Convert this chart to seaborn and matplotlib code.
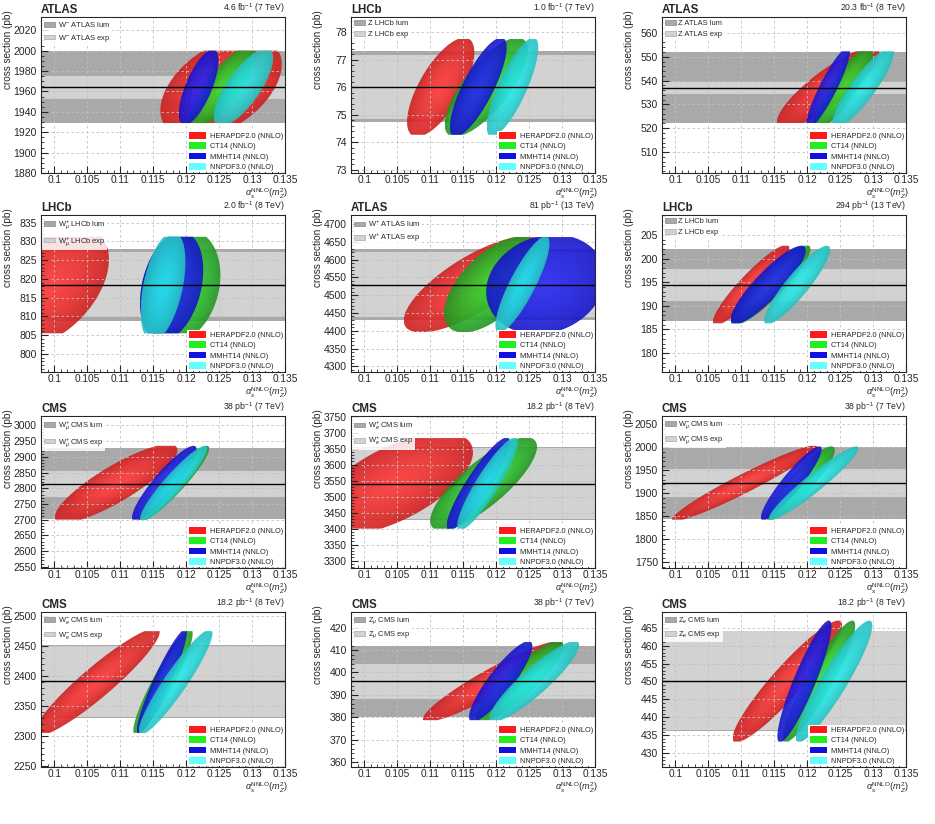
import numpy as np
import matplotlib
matplotlib.use("Agg")
import matplotlib.pyplot as plt
import seaborn as sns
from matplotlib.patches import Polygon, Patch

# -------- DATA --------
experiments = ["ATLAS", "LHCb", "ATLAS", "LHCb", "ATLAS", "LHCb",
               "CMS", "CMS", "CMS", "CMS", "CMS", "CMS"]
lumi_text = [r"4.6 fb$^{-1}$ (7 TeV)", r"1.0 fb$^{-1}$ (7 TeV)", r"20.3 fb$^{-1}$ (8 TeV)",
             r"2.0 fb$^{-1}$ (8 TeV)", r"81 pb$^{-1}$ (13 TeV)", r"294 pb$^{-1}$ (13 TeV)",
             r"38 pb$^{-1}$ (7 TeV)", r"18.2 pb$^{-1}$ (8 TeV)", r"38 pb$^{-1}$ (7 TeV)",
             r"18.2 pb$^{-1}$ (8 TeV)", r"38 pb$^{-1}$ (7 TeV)", r"18.2 pb$^{-1}$ (8 TeV)"]
channels = [r"W$^{-}$ ATLAS", "Z LHCb", "Z ATLAS",
            r"W$^{+}_{\mu}$ LHCb", r"W$^{+}$ ATLAS", "Z LHCb",
            r"W$^{+}_{\mu}$ CMS", r"W$^{+}_{e}$ CMS", r"W$^{-}_{\mu}$ CMS",
            r"W$^{-}_{e}$ CMS", r"Z$_{\mu}$ CMS", r"Z$_{e}$ CMS"]

# y axis ranges and ticks
y_min = [1880, 72.88, 501.2, 795.2, 4284, 176.0, 2546, 3277, 1738, 2248, 357.8, 426.1]
y_max = [2033, 78.55, 566.7, 837.0, 4725, 209.2, 3030, 3752, 2068, 2507, 427.0, 469.4]
y_tick0 = [1880, 73, 510, 800, 4300, 180, 2550, 3300, 1750, 2250, 360, 430]
y_step = [20, 1, 10, 5, 50, 5, 50, 50, 50, 50, 10, 5]

# measurement: central value, total (lum+exp) band, exp band
meas_central = [1964, 76.0, 536.9, 818.35, 4529, 194.4, 2815, 3540, 1921.5, 2391, 396.0, 450.0]
band_tot_lo = [1929, 74.72, 522.4, 808.9, 4429, 186.8, 2702, 3428, 1844, 2330, 379.9, 436.1]
band_tot_hi = [1999.5, 77.32, 552.2, 827.9, 4629, 202.0, 2928, 3654, 2000, 2451.5, 411.9, 464.2]
band_exp_lo = [1953, 74.84, 534.4, 809.9, 4438, 191.0, 2773, 3431, 1893, 2331, 388.1, 436.3]
band_exp_hi = [1975, 77.18, 539.3, 827.1, 4620, 197.8, 2856, 3651, 1952, 2450, 403.6, 464.0]

# y range that the theory contours are cut to
clip_lo = [1929, 74.27, 522.2, 805.5, 4393, 186.3, 2700, 3400, 1843, 2305, 378.7, 433.2]
clip_hi = [2000, 77.75, 552.3, 831.2, 4663, 202.7, 2935, 3683, 2003, 2475, 413.6, 467.1]

pdf_names = ["HERAPDF2.0 (NNLO)", "CT14 (NNLO)", "MMHT14 (NNLO)", "NNPDF3.0 (NNLO)"]

# contour parameters, one row per panel, order HERAPDF, CT14, MMHT14, NNPDF
cx = [[0.1253, 0.1255, 0.1219, 0.1287],
      [0.1116, 0.1185, 0.1173, 0.1225],
      [0.1232, 0.1255, 0.1232, 0.1285],
      [0.0995, 0.1192, 0.1178, 0.1165],
      [0.1165, 0.1195, 0.1275, 0.1240],
      [0.1115, 0.1145, 0.1141, 0.1185],
      [0.1094, 0.1182, 0.1167, 0.1181],
      [0.1045, 0.1181, 0.1173, 0.1187],
      [0.1105, 0.1190, 0.1176, 0.1210],
      [0.1065, 0.1165, 0.1163, 0.1184],
      [0.1195, 0.1236, 0.1207, 0.1258],
      [0.1170, 0.1218, 0.1196, 0.1241]]
sx = [[0.0092, 0.0050, 0.0030, 0.0045],
      [0.0051, 0.0063, 0.0043, 0.0039],
      [0.0078, 0.0045, 0.0033, 0.0047],
      [0.0088, 0.0060, 0.0048, 0.0034],
      [0.0105, 0.0074, 0.0090, 0.0041],
      [0.0058, 0.0060, 0.0057, 0.0050],
      [0.0093, 0.0053, 0.0049, 0.0051],
      [0.0120, 0.0081, 0.0048, 0.0046],
      [0.0110, 0.0052, 0.0046, 0.0068],
      [0.0095, 0.0045, 0.0038, 0.0056],
      [0.0106, 0.0066, 0.0048, 0.0068],
      [0.0083, 0.0055, 0.0041, 0.0058]]
cy = [[1964, 1964, 1964, 1964],
      [76.0, 76.0, 76.0, 76.0],
      [537, 537, 537, 537],
      [818, 818, 818, 818],
      [4530, 4530, 4530, 4530],
      [194.4, 194.4, 194.4, 194.4],
      [2815, 2815, 2815, 2815],
      [3540, 3540, 3540, 3540],
      [1922, 1922, 1922, 1922],
      [2390, 2390, 2390, 2390],
      [396, 396, 396, 396],
      [450, 450, 450, 450]]
sy = [[50, 40, 37, 38],
      [1.8, 1.8, 1.8, 1.8],
      [17, 17, 17, 17],
      [16, 15, 14.5, 14.5],
      [135, 135, 140, 135],
      [8.5, 8.5, 8.3, 8.3],
      [125, 120, 120, 120],
      [160, 145, 145, 145],
      [82, 80, 80, 80],
      [90, 88, 88, 88],
      [18, 18, 18, 18],
      [17, 17, 17, 17]]
rho = [[0.45, 0.80, 0.70, 0.75],
       [0.70, 0.75, 0.80, 0.80],
       [0.85, 0.85, 0.90, 0.88],
       [0.45, 0.20, 0.30, 0.45],
       [0.75, 0.60, 0.15, 0.85],
       [0.92, 0.90, 0.88, 0.90],
       [0.85, 0.93, 0.90, 0.93],
       [0.62, 0.80, 0.90, 0.90],
       [0.96, 0.90, 0.92, 0.95],
       [0.93, 0.92, 0.93, 0.93],
       [0.93, 0.88, 0.88, 0.90],
       [0.93, 0.92, 0.90, 0.92]]

x_ticks = [0.1, 0.105, 0.11, 0.115, 0.12, 0.125, 0.13, 0.135]

# -------- STYLE --------
sns.set_style("ticks")
plt.rcParams["font.family"] = ["Liberation Sans", "DejaVu Sans"]
plt.rcParams["mathtext.fontset"] = "custom"
plt.rcParams["mathtext.rm"] = "Liberation Sans"
plt.rcParams["mathtext.it"] = "Liberation Sans:italic"

edge_rgb = {"HERAPDF2.0 (NNLO)": (0.80, 0.12, 0.12), "CT14 (NNLO)": (0.13, 0.58, 0.13),
            "MMHT14 (NNLO)": (0.08, 0.08, 0.78), "NNPDF3.0 (NNLO)": (0.15, 0.75, 0.75)}
center_rgb = {"HERAPDF2.0 (NNLO)": (1.00, 0.22, 0.22), "CT14 (NNLO)": (0.20, 0.88, 0.20),
              "MMHT14 (NNLO)": (0.15, 0.15, 0.95), "NNPDF3.0 (NNLO)": (0.15, 0.92, 0.92)}
legend_rgb = {"HERAPDF2.0 (NNLO)": "#ff1a1a", "CT14 (NNLO)": "#22ee22",
              "MMHT14 (NNLO)": "#1010e0", "NNPDF3.0 (NNLO)": "#66ffff"}
dark_band = "#a9a9a9"
light_band = "#d2d2d2"

fig = plt.figure(figsize=(9.35, 8.24), dpi=100)
W, H = 935, 824
col_left = [41, 351, 662]
row_top = [17, 215, 416, 612]
row_h = [156, 157, 152, 155]
ax_w = 244

for i in range(12):
    r, c = divmod(i, 3)
    ax = fig.add_axes([col_left[c] / W, 1 - (row_top[r] + row_h[r]) / H, ax_w / W, row_h[r] / H])
    ax.set_xlim(0.098, 0.135)
    ax.set_ylim(y_min[i], y_max[i])

    # measurement bands
    ax.axhspan(band_tot_lo[i], band_tot_hi[i], color=dark_band, lw=0, zorder=1)
    ax.axhspan(band_exp_lo[i], band_exp_hi[i], color=light_band, lw=0, zorder=1.1)

    # theory contours with shaded interior
    for k, name in enumerate(pdf_names):
        x0, y0, a, b, p = cx[i][k], cy[i][k], sx[i][k], sy[i][k], rho[i][k]
        t = np.linspace(0, 2 * np.pi, 400)
        ex = x0 + a * np.cos(t)
        ey = y0 + b * (p * np.cos(t) + np.sqrt(1 - p ** 2) * np.sin(t))
        ey = np.clip(ey, clip_lo[i], clip_hi[i])
        poly = Polygon(np.column_stack([ex, ey]), closed=True, facecolor="none",
                       edgecolor="none", transform=ax.transData)
        ax.add_patch(poly)
        gx = np.linspace(x0 - a, x0 + a, 120)
        gy = np.linspace(y0 - b, y0 + b, 120)
        GX, GY = np.meshgrid(gx, gy)
        u = (GX - x0) / a
        v = (GY - y0) / b
        rr = np.sqrt(np.clip((u ** 2 - 2 * p * u * v + v ** 2) / (1 - p ** 2), 0, 1))
        c0 = np.array(center_rgb[name])
        c1 = np.array(edge_rgb[name])
        wgt = rr[..., None] ** 1.5
        img = c0[None, None, :] * (1 - wgt) + c1[None, None, :] * wgt
        im = ax.imshow(img, extent=(x0 - a, x0 + a, y0 - b, y0 + b), origin="lower",
                       aspect="auto", alpha=0.9, zorder=2 + k, interpolation="bilinear")
        im.set_clip_path(poly)

    # central value
    sns.lineplot(x=[0.098, 0.135], y=[meas_central[i]] * 2, color="black", lw=1.0,
                 ax=ax, zorder=7)

    ax.set_xlim(0.098, 0.135)
    ax.set_ylim(y_min[i], y_max[i])
    ax.set_xticks(x_ticks)
    ax.set_xticklabels(["%g" % v for v in x_ticks])
    yt = np.arange(y_tick0[i], y_max[i] + 1e-9, y_step[i])
    ax.set_yticks(yt)
    ax.set_yticklabels(["%g" % v for v in yt])
    ax.minorticks_on()
    ax.tick_params(which="both", direction="in", labelsize=7.5, pad=3)
    ax.tick_params(axis="x", which="both", labelsize=7.3, pad=1.5)
    ax.tick_params(which="major", length=5)
    ax.tick_params(which="minor", length=2.5)
    ax.grid(True, which="major", ls=(0, (3, 3)), color="#c0c0c0", lw=0.6, zorder=0)
    ax.set_axisbelow(False)
    for s in ax.spines.values():
        s.set_linewidth(0.8)
        s.set_zorder(10)

    ax.set_ylabel("cross section (pb)", fontsize=7.2, loc="top")
    ax.yaxis.set_label_coords(-0.114, 1.045)
    ax.set_xlabel(r"$\alpha_s^{\mathrm{NNLO}}(m_Z^2)$", fontsize=6.6, loc="right")
    ax.xaxis.set_label_coords(1.01, -0.088)

    ax.text(0.0, 1.008, experiments[i], transform=ax.transAxes, fontsize=8.3,
            fontweight="bold", ha="left", va="bottom")
    ax.text(1.0, 1.012, lumi_text[i], transform=ax.transAxes, fontsize=6.2,
            ha="right", va="bottom")

    h1 = [Patch(facecolor=dark_band, edgecolor="#888888", lw=0.5),
          Patch(facecolor=light_band, edgecolor="#aaaaaa", lw=0.5)]
    leg1 = ax.legend(h1, [channels[i] + " lum", channels[i] + " exp"], loc="upper left",
                     bbox_to_anchor=(0.0, 1.0), fontsize=5.4, frameon=True, framealpha=0.85,
                     edgecolor="none", fancybox=False, borderpad=0.3, labelspacing=0.45,
                     handlelength=1.4, handleheight=0.6, handletextpad=0.35,
                     borderaxespad=0.15)
    leg1.set_zorder(11)
    ax.add_artist(leg1)
    h2 = [Patch(facecolor=legend_rgb[n], edgecolor="none") for n in pdf_names]
    leg2 = ax.legend(h2, pdf_names, loc="lower right", bbox_to_anchor=(1.0, 0.0),
                     fontsize=5.3, frameon=True, framealpha=1.0, edgecolor="none",
                     fancybox=False, borderpad=0.2, labelspacing=0.33, handlelength=2.4,
                     handleheight=1.0, handletextpad=0.45, borderaxespad=0.1)
    leg2.set_zorder(11)

fig.savefig("out.png", dpi=100)
